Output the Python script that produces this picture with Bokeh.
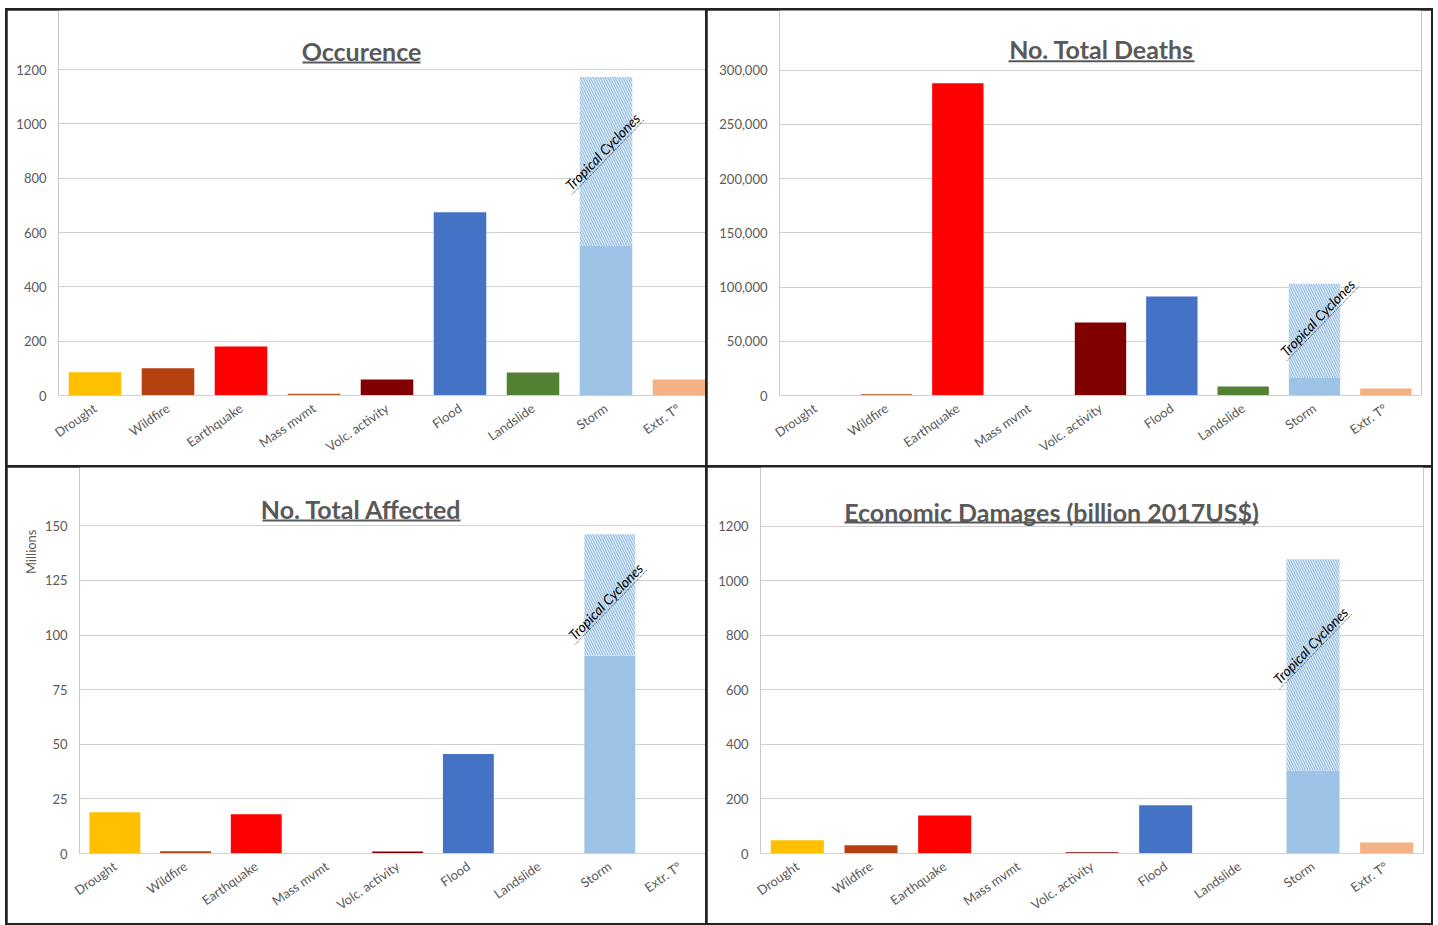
import math
from bokeh.plotting import figure
from bokeh.layouts import column, row
from bokeh.models import (Range1d, FixedTicker, Label, BoxAnnotation, Title,
                          NumeralTickFormatter, ColumnDataSource)
from bokeh.embed import file_html
from bokeh.resources import INLINE

# ---------------- data ----------------
categories = ["Drought", "Wildfire", "Earthquake", "Mass mvmt", "Volc. activity",
              "Flood", "Landslide", "Storm", "Extr. T°"]
bar_colors = ["#FFC000", "#B4410F", "#FF0000", "#C0561A", "#800000",
              "#4472C4", "#548235", "#9DC3E6", "#F4B183"]

occurrence = [86, 100, 180, 6, 59, 675, 85, 550, 59]
occurrence_tc = [0, 0, 0, 0, 0, 0, 0, 622, 0]

deaths = [0, 1200, 287800, 0, 67400, 91300, 8300, 16200, 6400]
deaths_tc = [0, 0, 0, 0, 0, 0, 0, 86800, 0]

affected = [18.9, 1.0, 18.0, 0, 0.9, 45.5, 0, 90.6, 0]
affected_tc = [0, 0, 0, 0, 0, 0, 0, 55.6, 0]

damages = [48.8, 30.4, 139, 0, 5, 177, 0, 305, 40]
damages_tc = [0, 0, 0, 0, 0, 0, 0, 774, 0]

occ_ticks = [0, 200, 400, 600, 800, 1000, 1200]
death_ticks = [0, 50000, 100000, 150000, 200000, 250000, 300000]
aff_ticks = [0, 25, 50, 75, 100, 125, 150]
dmg_ticks = [0, 200, 400, 600, 800, 1000, 1200]

titles = ["Occurence", "No. Total Deaths", "No. Total Affected",
          "Economic Damages (billion 2017US$)"]
tc_label = "Tropical Cyclones"

GRAY = "#595959"
FONT = "Lato"

# panel geometry (absolute page pixels)
panels = [
    dict(ox=7, oy=10, w=698, h=455, ml=51, mr=0, mb=70, x_end=8.863, y_end=1417.2,
         vals=occurrence, tc=occurrence_tc, ticks=occ_ticks, fmt=None, ylab=None,
         title=titles[0], tx=361, ty=50, ul=(302, 420, 61, 63), tcc=(602, 151)),
    dict(ox=707, oy=10, w=724, h=455, ml=72, mr=10, mb=69, x_end=9.0, y_end=354888,
         vals=deaths, tc=deaths_tc, ticks=death_ticks, fmt="0,0", ylab=None,
         title=titles[1], tx=1101, ty=48.5, ul=(1008, 1194, 60, 62), tcc=(1317, 318)),
    dict(ox=7, oy=467, w=698, h=456, ml=72, mr=0, mb=70, x_end=8.854, y_end=176.7,
         vals=affected, tc=affected_tc, ticks=aff_ticks, fmt=None, ylab="Millions",
         title=titles[2], tx=361, ty=508, ul=(262, 460, 519, 521), tcc=(605, 601)),
    dict(ox=707, oy=467, w=724, h=456, ml=53, mr=8, mb=70, x_end=9.0, y_end=1415.2,
         vals=damages, tc=damages_tc, ticks=dmg_ticks, fmt=None, ylab=None,
         title=titles[3], tx=1051, ty=511, ul=(844, 1258, 521, 523), tcc=(1310, 645)),
]


def to_data(s, ax, ay):
    fl = s["ox"] + s["ml"]
    fb = s["oy"] + s["h"] - s["mb"]
    fw = s["w"] - s["ml"] - s["mr"]
    fh = s["h"] - s["mb"]
    return (ax - fl) * s["x_end"] / fw - 0.5, (fb - ay) * s["y_end"] / fh


def make_panel(s):
    p = figure(width=s["w"], height=s["h"], output_backend="svg", toolbar_location=None,
               x_range=Range1d(-0.5, s["x_end"] - 0.5), y_range=Range1d(0, s["y_end"]),
               min_border_left=s["ml"], min_border_right=s["mr"],
               min_border_top=0, min_border_bottom=s["mb"],
               background_fill_color="white", border_fill_color="white")
    p.outline_line_color = None
    p.xgrid.grid_line_color = None
    p.ygrid.grid_line_color = "#d0d0d0"
    p.ygrid.grid_line_width = 1
    p.ygrid.ticker = FixedTicker(ticks=s["ticks"])

    xs = list(range(len(categories)))
    src = ColumnDataSource(dict(x=xs, top=s["vals"], color=bar_colors))
    p.vbar(x="x", top="top", bottom=0, width=0.72, fill_color="color",
           line_color=None, source=src)
    tx = [x for x, t in zip(xs, s["tc"]) if t > 0]
    tb = [v for v, t in zip(s["vals"], s["tc"]) if t > 0]
    tt = [v + t for v, t in zip(s["vals"], s["tc"]) if t > 0]
    hsrc = ColumnDataSource(dict(x=tx, bottom=tb, top=tt))
    p.vbar(x="x", top="top", bottom="bottom", width=0.72, fill_color="white",
           hatch_pattern="\\", hatch_color="#9DC3E6", hatch_scale=5, hatch_weight=1.6,
           line_color=None, source=hsrc)

    # axes
    p.xaxis.ticker = FixedTicker(ticks=xs)
    p.xaxis.major_label_overrides = {i: c for i, c in enumerate(categories)}
    p.xaxis.major_label_orientation = math.radians(35)
    p.xaxis.axis_line_color = "#d0d0d0"
    p.yaxis.ticker = FixedTicker(ticks=s["ticks"])
    p.yaxis.axis_line_color = None
    if s["fmt"]:
        p.yaxis.formatter = NumeralTickFormatter(format=s["fmt"])
    for ax in (p.xaxis[0], p.yaxis[0]):
        ax.major_tick_line_color = None
        ax.minor_tick_line_color = None
        ax.major_tick_out = 0
        ax.minor_tick_out = 0
        ax.major_label_text_font = FONT
        ax.major_label_text_font_size = "13px"
        ax.major_label_text_color = GRAY
    p.yaxis.major_label_standoff = 12
    p.xaxis.major_label_standoff = 11

    if s["ylab"]:
        p.add_layout(Title(text=s["ylab"], align="right", offset=62,
                           text_font=FONT, text_font_size="13px",
                           text_font_style="normal", text_color=GRAY,
                           standoff=6), "left")

    # title with underline
    x, y = to_data(s, s["tx"], s["ty"])
    p.add_layout(Label(x=x, y=y, text=s["title"], text_align="center",
                       text_baseline="middle", text_font=FONT,
                       text_font_size="25px", text_font_style="bold",
                       text_color=GRAY))
    l, r, t, b = s["ul"]
    x0, y0 = to_data(s, l, b)
    x1, y1 = to_data(s, r, t)
    p.add_layout(BoxAnnotation(left=x0, right=x1, bottom=y0, top=y1,
                               fill_color=GRAY, fill_alpha=1, line_color=None))

    # "Tropical Cyclones" label with dotted underline
    th = math.radians(46)
    cx, cy = s["tcc"]
    x, y = to_data(s, cx, cy)
    p.add_layout(Label(x=x, y=y, text=tc_label, angle=th, text_align="center",
                       text_baseline="middle", text_font=FONT, text_font_size="14px",
                       text_font_style="italic", text_color="#000000"))
    off = 8
    half = 52
    ux, uy = cx + off * math.sin(th), cy + off * math.cos(th)
    ax0, ay0 = ux - half * math.cos(th), uy + half * math.sin(th)
    ax1, ay1 = ux + half * math.cos(th), uy - half * math.sin(th)
    d0 = to_data(s, ax0, ay0)
    d1 = to_data(s, ax1, ay1)
    p.segment(x0=[d0[0]], y0=[d0[1]], x1=[d1[0]], y1=[d1[1]],
              line_color="#333333", line_width=1, line_dash="1 1")
    return p


figs = [make_panel(s) for s in panels]
layout = column(row(figs[0], figs[1], spacing=2),
                row(figs[2], figs[3], spacing=2),
                spacing=2,
                styles={"background-color": "#222222", "padding": "2px",
                        "margin": "8px 0px 0px 5px"})

open("out.html", "w").write(file_html(layout, INLINE))
